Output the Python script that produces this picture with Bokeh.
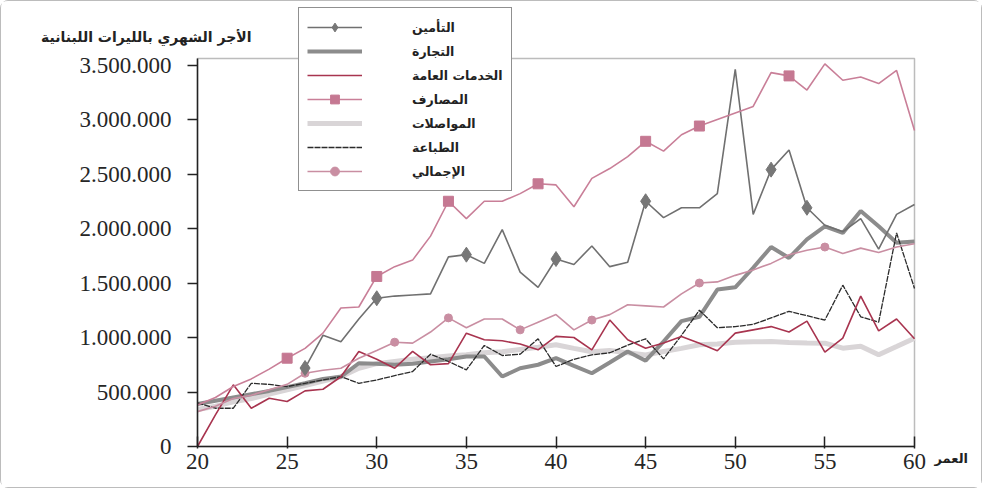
from bokeh.plotting import figure
from bokeh.models import (Range1d, FixedTicker, Legend, LegendItem, Label,
                          BoxAnnotation)
from bokeh.embed import file_html
from bokeh.resources import INLINE

# ---------------- data ----------------
ages = list(range(20, 61))

insurance_ages = list(range(26, 61))
insurance = [720000, 1020000, 960000, 1170000, 1360000, 1380000, 1390000, 1400000,
             1740000, 1760000, 1680000, 1990000, 1600000, 1460000, 1720000, 1670000,
             1840000, 1650000, 1690000, 2250000, 2100000, 2190000, 2190000, 2320000,
             3460000, 2130000, 2540000, 2720000, 2190000, 2030000, 1970000, 2090000,
             1810000, 2130000, 2220000]

trade = [390000, 420000, 450000, 480000, 510000, 545000, 580000, 620000, 640000,
         764000, 760000, 750000, 760000, 780000, 800000, 826000, 826000, 642000,
         718000, 750000, 810000, 740000, 672000, 770000, 872000, 787000, 963000,
         1150000, 1190000, 1440000, 1460000, 1640000, 1830000, 1730000, 1900000,
         2020000, 1960000, 2160000, 2020000, 1870000, 1880000]

public_services = [0, 290000, 566000, 351000, 443000, 413000, 510000, 525000, 640000,
                   872000, 800000, 718000, 872000, 750000, 760000, 1040000, 979000,
                   970000, 940000, 887000, 1010000, 1000000, 887000, 1160000, 979000,
                   902000, 950000, 1010000, 948000, 878000, 1040000, 1070000, 1100000,
                   1050000, 1150000, 865000, 994000, 1380000, 1060000, 1170000, 988000]

banks = [380000, 450000, 550000, 620000, 710000, 810000, 900000, 1040000, 1270000,
         1280000, 1560000, 1650000, 1710000, 1930000, 2250000, 2090000, 2250000,
         2250000, 2320000, 2410000, 2400000, 2200000, 2460000, 2550000, 2660000,
         2800000, 2710000, 2860000, 2940000, 3000000, 3060000, 3120000, 3430000,
         3400000, 3270000, 3510000, 3360000, 3390000, 3330000, 3450000, 2900000]

transport = [340000, 370000, 410000, 440000, 480000, 520000, 560000, 600000, 640000,
             718000, 760000, 780000, 800000, 815000, 830000, 841000, 860000, 870000,
             890000, 910000, 933000, 900000, 870000, 880000, 860000, 840000, 872000,
             900000, 933000, 940000, 957000, 960000, 963000, 955000, 950000, 948000,
             902000, 920000, 841000, 917000, 994000]

printing = [400000, 351000, 351000, 580000, 570000, 550000, 580000, 610000, 642000,
            580000, 610000, 650000, 688000, 847000, 780000, 703000, 927000, 835000,
            847000, 988000, 734000, 800000, 841000, 860000, 930000, 988000, 804000,
            1020000, 1250000, 1090000, 1100000, 1120000, 1180000, 1240000, 1200000,
            1160000, 1480000, 1190000, 1140000, 1960000, 1450000]

total = [320000, 370000, 440000, 470000, 520000, 570000, 672000, 700000, 718000,
         810000, 880000, 957000, 948000, 1050000, 1180000, 1090000, 1170000, 1170000,
         1070000, 1140000, 1210000, 1070000, 1160000, 1210000, 1300000, 1290000,
         1280000, 1400000, 1500000, 1510000, 1570000, 1620000, 1680000, 1760000,
         1800000, 1830000, 1770000, 1820000, 1780000, 1830000, 1860000]

insurance_marker_ages = [26, 30, 35, 40, 45, 52, 54]
banks_marker_ages = [25, 30, 34, 39, 45, 48, 53]
total_marker_ages = [26, 31, 34, 38, 42, 48, 55]

x_ticks = [20, 25, 30, 35, 40, 45, 50, 55, 60]
y_ticks = [0, 500000, 1000000, 1500000, 2000000, 2500000, 3000000, 3500000]
y_tick_labels = ["0", "500.000", "1.000.000", "1.500.000", "2.000.000",
                 "2.500.000", "3.000.000", "3.500.000"]
x_min, x_max = 20, 60
y_min, y_max = 0, 3560000

labels = {
    "insurance": "التأمين",
    "trade": "التجارة",
    "public": "الخدمات العامة",
    "banks": "المصارف",
    "transport": "المواصلات",
    "printing": "الطباعة",
    "total": "الإجمالي",
}
y_title = "الأجر الشهري بالليرات اللبنانية"
x_title = "العمر"

# ---------------- layout ----------------
W, H = 982, 488
px_per_year = 17.925          # horizontal scale of the chart
px_per_unit = 109.0 / 1e6     # vertical scale of the chart
frame_left_px, frame_bottom_px = 196, 445
x_start = x_min - frame_left_px / px_per_year
x_end = x_start + W / px_per_year
y_end = frame_bottom_px / px_per_unit
y_start = -(H - frame_bottom_px) / px_per_unit

p = figure(width=W, height=H, output_backend="svg", toolbar_location=None,
           x_range=Range1d(x_start, x_end), y_range=Range1d(y_start, y_end),
           min_border=0)
p.styles = {"border": "1px solid #bcbcbc", "border-radius": "8px"}
p.background_fill_color = "white"
p.border_fill_color = "white"
p.outline_line_color = None
p.xgrid.visible = False
p.ygrid.visible = False

serif = "Liberation Serif"
p.xaxis.fixed_location = y_min
p.yaxis.fixed_location = x_min
p.xaxis.bounds = (x_min, x_max)
p.yaxis.bounds = (y_min, y_max)
p.xaxis.ticker = FixedTicker(ticks=x_ticks)
p.yaxis.ticker = FixedTicker(ticks=y_ticks)
p.yaxis.major_label_overrides = {t: l for t, l in zip(y_ticks, y_tick_labels)}
for ax in (p.xaxis[0], p.yaxis[0]):
    ax.major_label_text_font = serif
    ax.major_label_text_font_size = "23px"
    ax.major_label_text_color = "#262626"
    ax.axis_line_color = "#222222"
    ax.axis_line_width = 1.5
    ax.major_tick_line_color = "#222222"
    ax.major_tick_line_width = 1.5
    ax.minor_tick_line_color = None
p.yaxis.major_tick_out = 10
p.yaxis.major_tick_in = 0
p.yaxis.major_label_standoff = 16
p.xaxis.major_tick_in = 10
p.xaxis.major_tick_out = 2
p.xaxis.major_label_standoff = 5

# plot frame box
p.add_layout(BoxAnnotation(left=x_min, right=x_max, bottom=y_min, top=y_max,
                           fill_color=None, line_color="#222222", line_width=1.5,
                           level="underlay"))


def marker_ys(xs, ys, marks):
    lookup = dict(zip(xs, ys))
    return [lookup[a] for a in marks]


r_transport = p.line(ages, transport, line_color="#d9d5d7", line_width=5)
r_trade = p.line(ages, trade, line_color="#8c8c8c", line_width=4)
r_printing = p.line(ages, printing, line_color="#2b2b2b", line_width=1.3,
                    line_dash="6 1")
r_public = p.line(ages, public_services, line_color="#a8344f", line_width=1.6)
r_total = p.line(ages, total, line_color="#c98ea2", line_width=1.6)
m_total = p.scatter(total_marker_ages, marker_ys(ages, total, total_marker_ages),
                    marker="circle", size=8, fill_color="#c98ea2",
                    line_color="#c98ea2")
r_ins = p.line(insurance_ages, insurance, line_color="#707070", line_width=1.6)
m_ins = p.scatter(insurance_marker_ages,
                  marker_ys(insurance_ages, insurance, insurance_marker_ages),
                  marker="diamond", size=15, fill_color="#777777",
                  line_color="#777777")
r_banks = p.line(ages, banks, line_color="#c97f98", line_width=1.6)
m_banks = p.scatter(banks_marker_ages, marker_ys(ages, banks, banks_marker_ages),
                    marker="square", size=10, fill_color="#c57892",
                    line_color="#c57892")

legend = Legend(items=[
    LegendItem(label=labels["insurance"], renderers=[r_ins, m_ins]),
    LegendItem(label=labels["trade"], renderers=[r_trade]),
    LegendItem(label=labels["public"], renderers=[r_public]),
    LegendItem(label=labels["banks"], renderers=[r_banks, m_banks]),
    LegendItem(label=labels["transport"], renderers=[r_transport]),
    LegendItem(label=labels["printing"], renderers=[r_printing]),
    LegendItem(label=labels["total"], renderers=[r_total, m_total]),
], location=(297, H - 190))
legend.glyph_width = 55
legend.glyph_height = 22
legend.label_height = 22
legend.label_width = 84
legend.spacing = 2
legend.padding = 8
legend.margin = 0
legend.label_standoff = 50
legend.label_text_align = "right"
legend.label_text_font = "DejaVu Sans"
legend.label_text_font_style = "bold"
legend.label_text_font_size = "12.5px"
legend.label_text_color = "#222222"
legend.border_line_color = "#222222"
legend.border_line_width = 1.5
legend.background_fill_color = "white"
legend.background_fill_alpha = 1.0
p.add_layout(legend, "center")

p.add_layout(Label(x=250, y=H - 35, x_units="screen", y_units="screen", text=y_title,
                   text_align="right", text_baseline="middle",
                   text_font="DejaVu Sans", text_font_style="bold",
                   text_font_size="14px", text_color="#222222"))
p.add_layout(Label(x=933, y=H - 457, x_units="screen", y_units="screen",
                   text=x_title, text_align="left", text_baseline="middle",
                   text_font="DejaVu Sans", text_font_style="bold",
                   text_font_size="13px", text_color="#222222"))

open("out.html", "w").write(file_html(p, INLINE))
